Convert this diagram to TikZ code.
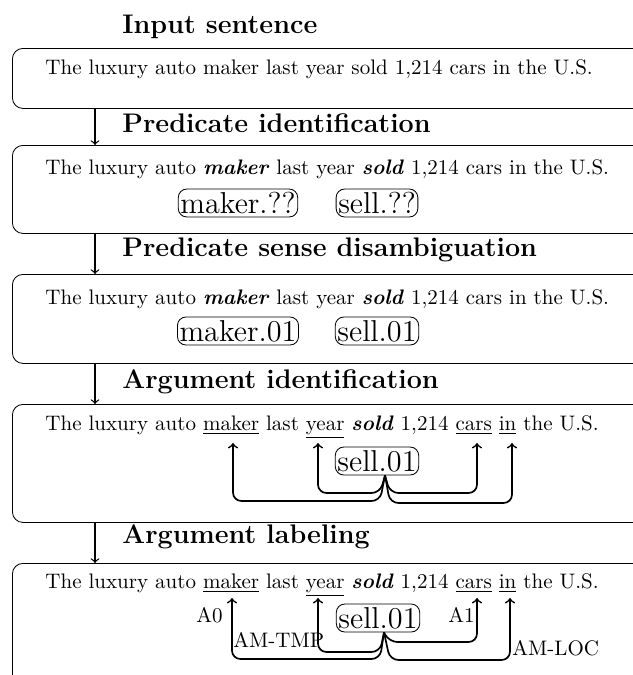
\documentclass[tikz,border=0pt]{standalone}
\usetikzlibrary{arrows,calc}
\begin{document}
\begin{tikzpicture}[x=0.476pt,y=-0.476pt]
\tikzset{
 stagebox/.style={draw, rounded corners=5pt, anchor=north west, inner sep=0pt, minimum width=660*0.476pt},
 title/.style={anchor=base west, font=\fontsize{12.8pt}{15pt}\selectfont\bfseries, inner sep=0pt},
 sent/.style={anchor=base west, inner sep=0pt},
 sense/.style={draw, rounded corners=4pt, font=\Large, inner xsep=1pt, inner ysep=1.5pt},
 flow/.style={->, semithick},
 arg/.style={->, thick, rounded corners=4pt},
 lab/.style={inner sep=0pt}
}
\useasboundingbox (0,0) rectangle (633,675);
\clip (0,0) rectangle (633,675);

% stage boxes
\node[stagebox, minimum height=60*0.476pt]  (b1) at (12,48) {};
\node[stagebox, minimum height=88*0.476pt]  (b2) at (12,145) {};
\node[stagebox, minimum height=89*0.476pt]  (b3) at (12,274) {};
\node[stagebox, minimum height=118*0.476pt] (b4) at (12,404) {};
\node[stagebox, minimum height=150*0.476pt] (b5) at (12,563) {};

% titles
\node[title] (t1) at (122,33)  {Input sentence};
\node[title] (t2) at (122,132) {Predicate identification};
\node[title] (t3) at (122,256) {Predicate sense disambiguation};
\node[title] (t4) at (122,388) {Argument identification};
\node[title] (t5) at (122,543) {Argument labeling};

% flow arrows
\coordinate (ax) at (95,0);
\draw[flow] (b1.south -| ax) -- (b2.north -| ax);
\draw[flow] (b2.south -| ax) -- (b3.north -| ax);
\draw[flow] (b3.south -| ax) -- (b4.north -| ax);
\draw[flow] (b4.south -| ax) -- (b5.north -| ax);

% sentences
\node[sent] (s1) at (45,74) {The luxury auto maker last year sold 1,214 cars in the U.S.};
\node[sent] (s2) at (45,174) {The luxury auto \textbf{\textit{maker}} last year \textbf{\textit{sold}} 1,214 cars in the U.S.};
\node[sent] (s3) at (45,304) {The luxury auto \textbf{\textit{maker}} last year \textbf{\textit{sold}} 1,214 cars in the U.S.};
\node[sent] (s4) at (45,430) {The luxury auto \underline{maker} last \underline{year} \textbf{\textit{sold}} 1,214 \underline{cars} \underline{in} the U.S.};
\node[sent] (s5) at (45,588) {The luxury auto \underline{maker} last \underline{year} \textbf{\textit{sold}} 1,214 \underline{cars} \underline{in} the U.S.};

% sense nodes
\node[sense] (m2) at (238,203) {maker.??};
\node[sense] (p2) at (377,203) {sell.??};
\node[sense] (m3) at (238,331) {maker.01};
\node[sense] (p3) at (377,331) {sell.01};
\node[sense] (p4) at (377,461) {sell.01};
\node[sense] (p5) at (378,618) {sell.01};

% argument identification
\coordinate (o4) at ($(p4.south)+(8,0)$);
\coordinate (wm4) at (233,443);
\coordinate (wy4) at (318,443);
\coordinate (wc4) at (477,443);
\coordinate (wi4) at (512,443);
\draw[arg] (o4) -- (380,493) -- (wy4 |- 0,493) -- (wy4);
\draw[arg] (o4) -- (380,501) -- (wm4 |- 0,501) -- (wm4);
\draw[arg] (o4) -- (390,493) -- (wc4 |- 0,493) -- (wc4);
\draw[arg] (o4) -- (390,503) -- (wi4 |- 0,503) -- (wi4);

% argument labeling
\coordinate (o5) at ($(p5.south)+(6,0)$);
\coordinate (wm5) at (232,598);
\coordinate (wy5) at (318,598);
\coordinate (wc5) at (477,598);
\coordinate (wi5) at (510,598);
\draw[arg] (o5) -- (389,642) -- (wc5 |- 0,642) -- (wc5);
\draw[arg] (o5) -- (380,652) -- (wy5 |- 0,652) -- (wy5);
\draw[arg] (o5) -- (380,659) -- (wm5 |- 0,659) -- (wm5);
\draw[arg] (o5) -- (390,660) -- (wi5 |- 0,660) -- (wi5);

\node[lab, anchor=base east] (l1) at (223,622) {A0};
\node[lab, anchor=base east] (l2) at (475,622) {A1};
\node[lab, anchor=base west] (l3) at (233,647) {AM-TMP};
\node[lab, anchor=base west] (l4) at (512,655) {AM-LOC};
\end{tikzpicture}
\end{document}
